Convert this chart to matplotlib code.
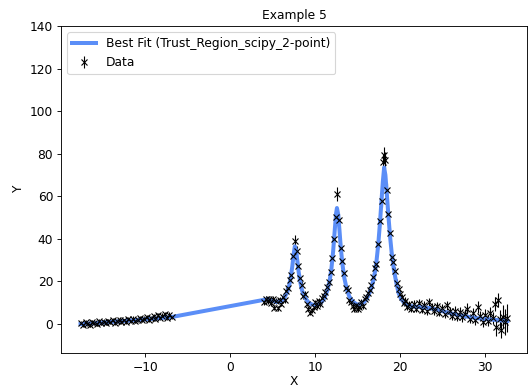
import matplotlib.pyplot as plt

# measured data (x, y, y-error)
data_x = [-17.6, -17.3, -17.0, -16.8, -16.5, -16.2, -16.0, -15.7, -15.4, -15.2,
          -14.9, -14.6, -14.4, -14.1, -13.8, -13.6, -13.3, -13.0, -12.8, -12.5,
          -12.2, -12.0, -11.7, -11.4, -11.2, -10.9, -10.6, -10.4, -10.1, -9.8,
          -9.6, -9.3, -9.0, -8.8, -8.5, -8.2, -8.0, -7.7, -7.4, -7.2, -6.9,
          4.0, 4.2, 4.4, 4.6, 4.8, 5.0, 5.2, 5.4, 5.6, 5.8,
          6.0, 6.2, 6.4, 6.6, 6.8, 7.0, 7.2, 7.4, 7.6, 7.8,
          8.0, 8.2, 8.4, 8.6, 8.8, 9.0, 9.2, 9.4, 9.6, 9.8,
          10.0, 10.2, 10.4, 10.6, 10.8, 11.0, 11.2, 11.4, 11.6, 11.8,
          12.0, 12.2, 12.4, 12.6, 12.8, 13.0, 13.2, 13.4, 13.6, 13.8,
          14.0, 14.2, 14.4, 14.6, 14.8, 15.0, 15.2, 15.4, 15.6, 15.8,
          16.0, 16.2, 16.4, 16.6, 16.8, 17.0, 17.2, 17.4, 17.6, 17.8,
          18.0, 18.1, 18.2, 18.4, 18.6, 18.8, 19.0, 19.2, 19.4, 19.6,
          19.8, 20.0, 20.2, 20.4, 20.6, 20.8, 21.0, 21.3, 21.6, 21.9,
          22.2, 22.5, 22.8, 23.1, 23.4, 23.7, 24.0, 24.3, 24.6, 24.9,
          25.2, 25.5, 25.8, 26.1, 26.4, 26.7, 27.0, 27.3, 27.6, 27.9,
          28.2, 28.5, 28.8, 29.1, 29.4, 29.7, 30.0, 30.3, 30.6, 30.9,
          31.1, 31.3, 31.5, 31.7, 31.9, 32.1, 32.3, 32.5]
data_y = [0.6, -0.4, 0.9, 0.2, -0.3, 1.1, 0.5, 0.0, 1.3, 0.4,
          1.2, 0.3, 1.5, 0.8, 1.9, 0.6, 1.4, 2.0, 0.9, 1.7,
          1.2, 2.3, 1.4, 2.5, 1.6, 2.1, 2.9, 1.8, 2.6, 3.2,
          1.9, 2.8, 3.6, 2.3, 4.1, 2.7, 3.9, 4.6, 2.9, 4.4, 3.4,
          10.2, 12.0, 10.8, 11.9, 9.9, 11.6, 7.6, 10.9, 7.4, 11.3,
          9.6, 12.9, 11.4, 15.6, 17.0, 20.8, 23.0, 31.9, 39.0, 34.4,
          27.3, 21.6, 18.4, 13.1, 14.0, 9.6, 7.2, 5.4, 6.4, 8.1,
          10.2, 8.3, 11.0, 9.2, 12.2, 13.3, 14.9, 17.2, 19.6, 24.5,
          30.8, 40.1, 50.2, 61.0, 49.0, 35.6, 29.4, 24.0, 17.1, 15.9,
          11.4, 10.2, 8.4, 7.0, 8.8, 6.9, 8.2, 10.3, 8.6, 11.8,
          12.6, 14.8, 16.2, 18.3, 22.0, 26.3, 28.1, 37.8, 48.5, 58.0,
          76.2, 79.3, 77.0, 63.2, 51.8, 42.6, 31.4, 29.2, 24.8, 19.3,
          16.4, 14.2, 12.6, 9.8, 11.0, 8.2, 9.5, 7.2, 9.6, 7.0,
          10.1, 6.8, 8.9, 5.9, 10.5, 8.0, 6.1, 8.4, 5.3, 7.4,
          4.6, 8.9, 5.9, 3.6, 6.3, 3.4, 5.8, 3.1, 4.9, 7.2,
          2.6, 5.1, 1.8, 7.8, 3.8, 0.9, 4.4, 1.6, 5.2, 2.9,
          9.5, -1.5, 11.3, 2.2, -2.8, 3.5, 1.0, 2.7]
data_err = [1.0, 0.9, 1.1, 1.0, 0.9, 1.0, 1.1, 0.9, 1.0, 1.0,
            1.1, 0.9, 1.0, 1.0, 1.1, 0.9, 1.0, 1.1, 1.0, 0.9,
            1.0, 1.1, 1.0, 1.1, 0.9, 1.0, 1.1, 1.0, 1.0, 1.1,
            0.9, 1.0, 1.1, 1.0, 1.1, 1.0, 1.1, 1.2, 1.0, 1.1, 1.0,
            1.3, 1.4, 1.3, 1.4, 1.3, 1.4, 1.2, 1.3, 1.2, 1.4,
            1.3, 1.4, 1.4, 1.6, 1.7, 1.8, 1.9, 2.3, 2.6, 2.4,
            2.1, 1.9, 1.7, 1.5, 1.5, 1.3, 1.2, 1.1, 1.2, 1.3,
            1.3, 1.3, 1.4, 1.3, 1.5, 1.5, 1.6, 1.7, 1.8, 2.0,
            2.2, 2.5, 2.8, 3.2, 2.8, 2.4, 2.2, 2.0, 1.7, 1.6,
            1.4, 1.3, 1.2, 1.2, 1.3, 1.2, 1.3, 1.4, 1.3, 1.5,
            1.5, 1.6, 1.7, 1.8, 1.9, 2.1, 2.2, 2.5, 2.8, 3.1,
            3.5, 3.8, 3.6, 3.2, 2.9, 2.6, 2.3, 2.2, 2.0, 1.8,
            1.7, 1.6, 1.5, 1.4, 1.5, 1.4, 1.5, 1.4, 1.6, 1.5,
            1.7, 1.5, 1.7, 1.6, 1.9, 1.8, 1.7, 1.9, 1.7, 1.9,
            1.8, 2.1, 1.9, 1.8, 2.1, 1.9, 2.2, 2.0, 2.2, 2.5,
            2.1, 2.4, 2.2, 2.8, 2.5, 2.4, 2.8, 2.6, 3.0, 2.9,
            3.4, 3.9, 3.2, 4.2, 3.9, 5.5, 6.0, 6.5]

# fitted model curve
fit_x = [-17.6, -16.0, -14.0, -12.0, -10.0, -8.0, -6.9,
         4.0, 4.5, 5.0, 5.4, 5.8, 6.1, 6.4, 6.7, 6.9, 7.1, 7.3, 7.45, 7.6,
         7.75, 7.9, 8.05, 8.2, 8.4, 8.6, 8.9, 9.2, 9.6, 10.0, 10.4, 10.8,
         11.1, 11.4, 11.7, 11.9, 12.1, 12.3, 12.45, 12.55, 12.7, 12.85, 13.0,
         13.2, 13.4, 13.7, 14.0, 14.4, 14.9, 15.4, 15.8, 16.2, 16.5, 16.8,
         17.0, 17.2, 17.4, 17.6, 17.8, 17.95, 18.1, 18.25, 18.4, 18.6, 18.8,
         19.0, 19.25, 19.5, 19.8, 20.1, 20.5, 21.0, 21.6, 22.3, 23.0, 23.7,
         24.4, 25.2, 26.0, 27.0, 28.0, 29.0, 30.0, 31.0, 32.0, 32.6]
fit_y = [0.0, 0.4, 1.0, 1.6, 2.2, 2.9, 3.3,
         11.4, 11.6, 11.0, 10.4, 10.5, 11.0, 12.6, 15.0, 17.5, 21.5, 27.0, 32.5, 36.5,
         34.5, 29.5, 24.5, 20.5, 16.5, 14.0, 11.8, 10.2, 9.2, 8.9, 9.3, 10.6,
         12.5, 15.5, 20.5, 26.0, 34.0, 44.5, 52.0, 54.5, 51.5, 44.0, 36.0,
         28.0, 22.0, 16.5, 13.0, 10.6, 9.2, 9.3, 10.6, 13.0, 15.8, 20.0,
         24.0, 29.5, 37.0, 47.0, 58.5, 67.0, 73.5, 70.0, 62.0, 51.0, 41.0,
         33.0, 25.5, 20.0, 14.5, 11.8, 9.8, 8.6, 8.2, 8.0, 7.8, 7.3,
         6.6, 5.8, 5.0, 4.1, 3.4, 2.8, 2.4, 2.0, 1.7, 1.5]

plt.rcParams['font.size'] = 11

fig = plt.figure(figsize=(6.6, 4.8625), dpi=80)
ax = fig.add_axes([0.1155, 0.0925, 0.8826, 0.8407])

ax.errorbar(data_x, data_y, yerr=data_err, fmt='x', color='k', ms=5, lw=1,
            label='Data')
ax.plot(fit_x, fit_y, color='#5b8ef7', lw=3.6,
        label='Best Fit (Trust_Region_scipy_2-point)')

ax.set_xlim(-19.9, 34.9)
ax.set_ylim(-13.6, 140)
ax.set_title('Example 5', fontsize=11)
ax.set_xlabel('X', labelpad=1)
ax.set_ylabel('Y')
ax.legend(loc='upper left')

plt.savefig('out.png', dpi=80)
